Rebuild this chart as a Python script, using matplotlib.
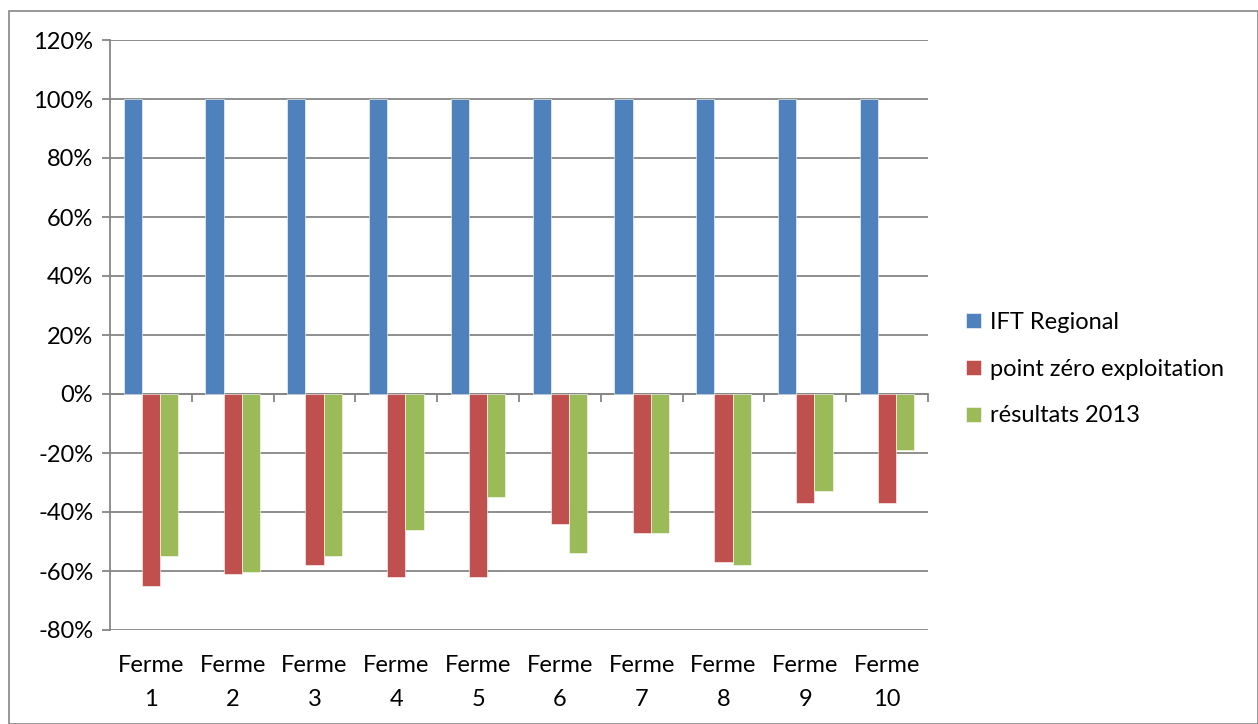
import numpy as np
import matplotlib
matplotlib.use("Agg")
import matplotlib.pyplot as plt
from matplotlib.patches import Rectangle
from matplotlib.ticker import FuncFormatter

plt.rcParams['font.family'] = ['Lato', 'DejaVu Sans']
plt.rcParams['axes.unicode_minus'] = False

# IFT per farm, as % of the regional reference
fermes = ["Ferme\n1", "Ferme\n2", "Ferme\n3", "Ferme\n4", "Ferme\n5",
          "Ferme\n6", "Ferme\n7", "Ferme\n8", "Ferme\n9", "Ferme\n10"]
ift_regional = [100, 100, 100, 100, 100, 100, 100, 100, 100, 100]
point_zero = [-65, -61, -58, -62, -62, -44, -47, -57, -37, -37]
resultats_2013 = [-55, -60.5, -55, -46, -35, -54, -47, -58, -33, -19]

series = [("IFT Regional", ift_regional, "#4F81BD"),
          ("point zéro exploitation", point_zero, "#C0504D"),
          ("résultats 2013", resultats_2013, "#9BBB59")]

grey = "#868686"
fs = 17
W, H = 1258, 724
fig = plt.figure(figsize=(W / 100, H / 100), dpi=100)
ax = fig.add_axes([110 / W, (H - 630) / H, 818 / W, 590 / H])

# chart frame
fig.patches.append(Rectangle((9 / W, 0), 1 - 9 / W - 0.5 / W, 1 - 10 / H - 0.5 / H,
                             transform=fig.transFigure, fill=False,
                             edgecolor=grey, lw=1.2))

x = np.arange(len(fermes))
bw = 1 / 4.5  # gap width 150 %
for i, (name, vals, col) in enumerate(series):
    ax.bar(x + (i - 1) * bw, vals, bw, color=col, label=name,
           edgecolor="white", linewidth=0.4, zorder=3)

ax.set_xlim(-0.5, len(fermes) - 0.5)
ax.set_ylim(-80, 120)
ax.set_yticks(np.arange(-80, 121, 20))
ax.yaxis.set_major_formatter(FuncFormatter(lambda v, p: f"{int(v)}%"))
ax.yaxis.grid(True, color=grey, lw=1.3, zorder=0)
ax.tick_params(axis='y', length=6, width=1.3, color=grey, pad=6, labelsize=fs)

for s in ("top", "right", "bottom"):
    ax.spines[s].set_visible(False)
ax.spines["left"].set_color(grey)
ax.spines["left"].set_linewidth(1.3)

ax.set_xticks(x)
ax.set_xticklabels(fermes, fontsize=fs, linespacing=1.75)
ax.tick_params(axis='x', length=0, pad=18)

# category axis crossing at 0 with tick marks between farms
sec = ax.secondary_xaxis(0, transform=ax.transData)
sec.set_xticks(np.arange(0.5, len(fermes), 1))
sec.set_xticklabels([])
sec.tick_params(axis='x', length=6, width=1.3, color=grey)
sec.spines["bottom"].set_color(grey)
sec.spines["bottom"].set_linewidth(1.3)

ax.legend(loc="center left", bbox_to_anchor=(957 / W, (H - 369) / H),
          bbox_transform=fig.transFigure, frameon=False, fontsize=fs,
          handlelength=0.6, handleheight=0.6, handletextpad=0.4,
          labelspacing=1.1, borderaxespad=0)

fig.savefig("out.png", dpi=100)
